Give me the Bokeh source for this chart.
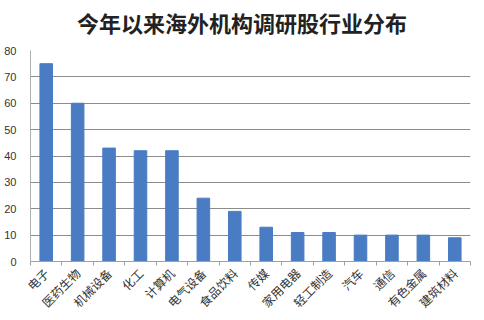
from bokeh.plotting import figure
from bokeh.models import Range1d, FixedTicker, Div
from bokeh.layouts import column
from bokeh.embed import file_html
from bokeh.resources import INLINE

categories = ["电子", "医药生物", "机械设备", "化工", "计算机", "电气设备", "食品饮料",
              "传媒", "家用电器", "轻工制造", "汽车", "通信", "有色金属", "建筑材料"]
values = [75, 60, 43, 42, 42, 24, 19, 13, 11, 11, 10, 10, 10, 9]
y_ticks = [0, 10, 20, 30, 40, 50, 60, 70, 80]
title_text = "今年以来海外机构调研股行业分布"

idx = list(range(len(categories)))

title = Div(
    text=('<div style="width:484px;height:40px;line-height:40px;padding-top:2px;'
          'box-sizing:border-box;text-align:center;font-family:\'Noto Sans CJK SC\';'
          'font-size:22px;font-weight:bold;color:#222222;">' + title_text + '</div>'),
    width=484, height=40, margin=0)

p = figure(width=484, height=280, output_backend="svg", toolbar_location=None,
           x_range=Range1d(-0.5, len(categories) - 0.5), y_range=Range1d(0, 80),
           min_border_left=30, min_border_right=14, min_border_top=10, min_border_bottom=59,
           margin=0)

p.vbar(x=idx, top=values, width=0.4, color="#4a7cc4")

p.outline_line_color = None
p.background_fill_color = "white"
p.border_fill_color = "white"

p.xgrid.grid_line_color = None
p.ygrid.grid_line_color = "#8c8c8c"
p.ygrid.grid_line_width = 1
p.ygrid.ticker = FixedTicker(ticks=y_ticks)

p.yaxis.ticker = FixedTicker(ticks=y_ticks)
p.yaxis.axis_line_color = "#b0b0b0"
p.yaxis.major_tick_line_color = None
p.yaxis.minor_tick_line_color = None
p.yaxis.major_label_text_font = "Liberation Sans"
p.yaxis.major_label_text_font_size = "11px"
p.yaxis.major_label_text_color = "#333333"
p.yaxis.major_label_standoff = 8

p.xaxis.ticker = FixedTicker(ticks=idx, minor_ticks=[i - 0.5 for i in range(len(categories) + 1)])
p.xaxis.major_label_overrides = {i: c for i, c in zip(idx, categories)}
p.xaxis.major_label_orientation = 0.785
p.xaxis.major_label_text_font = "Noto Sans CJK SC"
p.xaxis.major_label_text_font_size = "12px"
p.xaxis.major_label_text_color = "#333333"
p.xaxis.major_tick_line_color = None
p.xaxis.minor_tick_line_color = "#a0a0a0"
p.xaxis.minor_tick_in = 0
p.xaxis.minor_tick_out = 4
p.xaxis.axis_line_color = "#a0a0a0"
p.xaxis.major_label_standoff = 3

layout = column(title, p, spacing=0, margin=0)

open("out.html", "w").write(file_html(layout, INLINE))
